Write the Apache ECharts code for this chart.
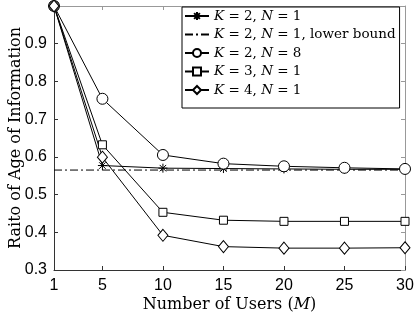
<!DOCTYPE html>
<html>
<head>
<meta charset="utf-8">
<script src="https://cdn.jsdelivr.net/npm/echarts@6/dist/echarts.min.js"></script>
<style>
  html, body { margin: 0; padding: 0; background: #fff; }
  #main { width: 415px; height: 320px; }
</style>
</head>
<body>
<div id="main"></div>
<script>
// number of users on the x axis
var users = [1, 5, 10, 15, 20, 25, 30];
var xTicks = [1, 5, 10, 15, 20, 25, 30];

var k2n1 = [1.0, 0.577, 0.570, 0.569, 0.568, 0.567, 0.567];
var k2n1Bound = [0.565, 0.565, 0.565, 0.565, 0.565, 0.565, 0.565];
var k2n8 = [1.0, 0.754, 0.605, 0.582, 0.575, 0.571, 0.568];
var k3n1 = [1.0, 0.632, 0.453, 0.432, 0.429, 0.429, 0.429];
var k4n1 = [1.0, 0.599, 0.392, 0.362, 0.358, 0.358, 0.359];

var names = ['K2N1', 'K2N1LB', 'K2N8', 'K3N1', 'K4N1'];
var legendText = {
  K2N1: '{i|K} = 2, {i|N} = 1',
  K2N1LB: '{i|K} = 2, {i|N} = 1, lower bound',
  K2N8: '{i|K} = 2, {i|N} = 8',
  K3N1: '{i|K} = 3, {i|N} = 1',
  K4N1: '{i|K} = 4, {i|N} = 1'
};

var star = 'path://M0,-5L0,5M-5,0L5,0M-3.6,-3.6L3.6,3.6M-3.6,3.6L3.6,-3.6';
var serif = 'DejaVu Serif';
var sans = 'Liberation Sans';

function pairs(vals) {
  return users.map(function (u, i) { return [u, vals[i]]; });
}

function mk(name, vals, symbol, size, dash) {
  return {
    name: name,
    type: 'line',
    data: pairs(vals),
    symbol: symbol,
    symbolSize: size,
    showSymbol: symbol !== 'none',
    lineStyle: { color: '#000', width: 1, type: dash || 'solid' },
    itemStyle: { color: '#fff', borderColor: '#000', borderWidth: 1 },
    emphasis: { disabled: true },
    animation: false
  };
}

var legendData = names.map(function (n) {
  if (n === 'K2N1LB') {
    return { name: n, itemStyle: { color: 'rgba(0,0,0,0)', borderColor: 'rgba(0,0,0,0)', borderWidth: 0 } };
  }
  return { name: n };
});

var chart = echarts.init(document.getElementById('main'));
chart.setOption({
  backgroundColor: '#fff',
  grid: { left: 54, right: 10, top: 6, bottom: 50, outerBoundsMode: 'none', containLabel: false },
  legend: {
    orient: 'vertical',
    left: 182,
    top: 7,
    data: legendData,
    itemWidth: 24,
    itemHeight: 10,
    itemGap: 4.5,
    padding: [2, 4, 11, 2],
    backgroundColor: '#fff',
    borderColor: '#000',
    borderWidth: 1,
    borderRadius: 0,
    formatter: function (n) { return legendText[n]; },
    textStyle: {
      fontFamily: serif, fontSize: 13.5, lineHeight: 14, color: '#000',
      rich: { i: { fontFamily: serif, fontStyle: 'italic', fontSize: 13.5, lineHeight: 14, color: '#000' } }
    }
  },
  xAxis: [{
    type: 'value',
    min: 1,
    max: 30,
    name: 'Number of Users ({i|M})',
    nameLocation: 'middle',
    nameGap: 27,
    nameMoveOverlap: false,
    nameTextStyle: {
      fontFamily: serif, fontSize: 16, color: '#000',
      rich: { i: { fontFamily: serif, fontStyle: 'italic', fontSize: 16, color: '#000' } }
    },
    axisLine: { lineStyle: { color: '#333', width: 1 } },
    axisTick: { inside: true, length: 4, customValues: xTicks, lineStyle: { color: '#333' } },
    axisLabel: { customValues: xTicks, fontFamily: sans, fontSize: 16, color: '#000', margin: 8, hideOverlap: false },
    splitLine: { show: false }
  }, {
    type: 'value', position: 'top', min: 1, max: 30,
    axisLine: { lineStyle: { color: '#999', width: 1 } },
    axisTick: { inside: true, length: 4, customValues: xTicks, lineStyle: { color: '#999' } },
    axisLabel: { show: false },
    splitLine: { show: false }
  }],
  yAxis: [{
    type: 'value',
    min: 0.3,
    max: 1.0,
    interval: 0.1,
    name: 'Raito of Age of Information',
    nameLocation: 'middle',
    nameGap: 30,
    nameMoveOverlap: false,
    nameTextStyle: { fontFamily: serif, fontSize: 16, color: '#000' },
    axisLine: { show: true, lineStyle: { color: '#333', width: 1 } },
    axisTick: { show: true, inside: true, length: 4, lineStyle: { color: '#333' } },
    axisLabel: {
      fontFamily: sans, fontSize: 16, color: '#000', margin: 7,
      formatter: function (v) { return v > 0.95 ? '' : v.toFixed(1); }
    },
    splitLine: { show: false }
  }, {
    type: 'value', position: 'right', min: 0.3, max: 1.0, interval: 0.1,
    axisLine: { show: true, lineStyle: { color: '#999', width: 1 } },
    axisTick: { show: true, inside: true, length: 4, lineStyle: { color: '#999' } },
    axisLabel: { show: false },
    splitLine: { show: false }
  }],
  series: [
    mk('K2N1', k2n1, star, 9),
    mk('K2N1LB', k2n1Bound, 'none', 0, [8, 3, 2, 3]),
    mk('K2N8', k2n8, 'circle', 11),
    mk('K3N1', k3n1, 'rect', 8),
    mk('K4N1', k4n1, 'diamond', [10, 12])
  ]
});
</script>
</body>
</html>
